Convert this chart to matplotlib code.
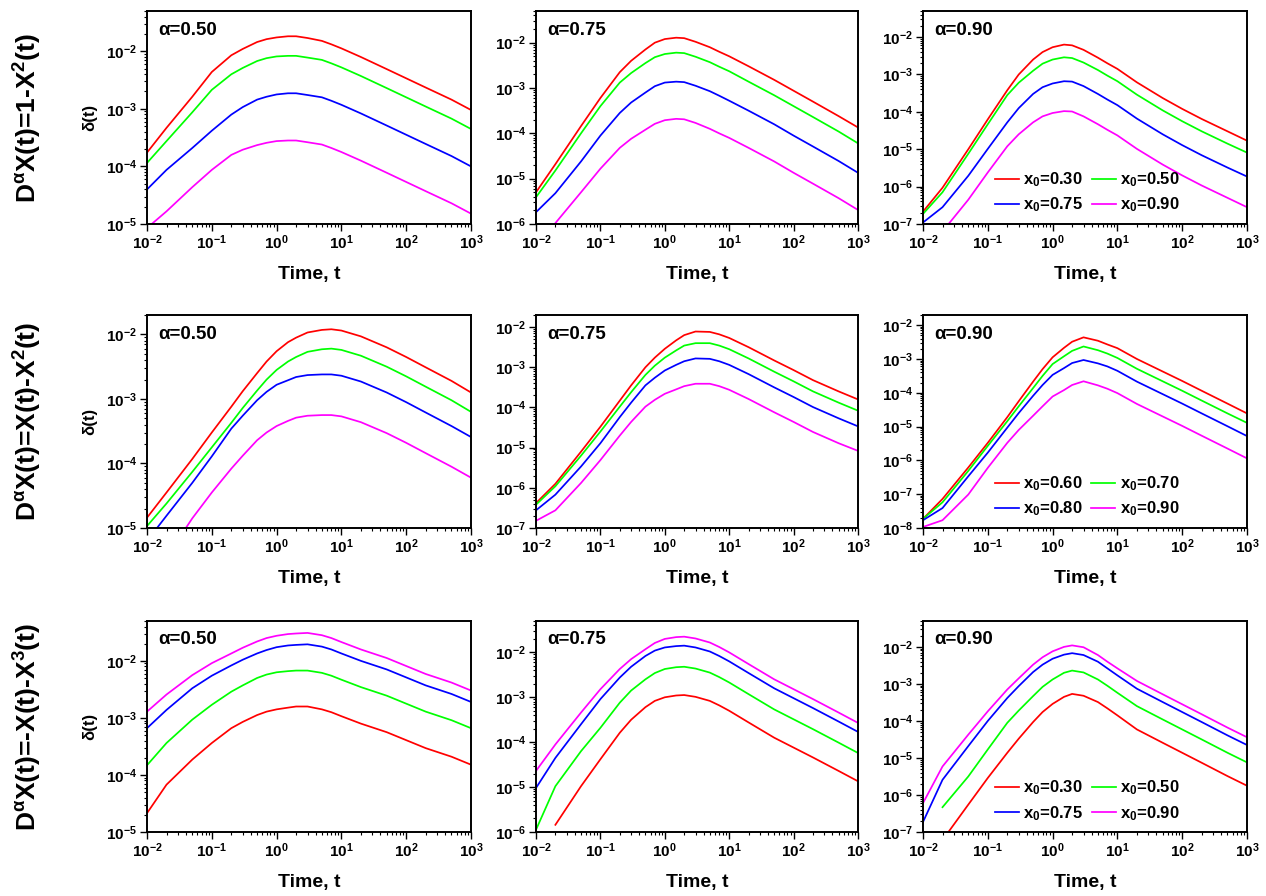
import numpy as np
import matplotlib
matplotlib.use('Agg')
from matplotlib import pyplot as plt
from matplotlib.ticker import LogLocator, LogFormatterMathtext, NullFormatter

plt.rcParams['font.family'] = ['Liberation Sans', 'DejaVu Sans']
plt.rcParams['font.weight'] = 'bold'
plt.rcParams['mathtext.default'] = 'regular'

# time points the curves were read at
t = [0.01, 0.02, 0.05, 0.1, 0.2, 0.3, 0.5, 0.7, 1, 1.5, 2, 3, 5, 7, 10, 20, 50, 100, 200, 500, 1000]
nan = float('nan')

# log10 of delta(t), curves in order red, green, blue, magenta
# row 1: D^a X = 1 - X^2
r1_a050 = [[-3.76, -3.33, -2.79, -2.36, -2.07, -1.96, -1.84, -1.79, -1.76, -1.74, -1.74, -1.77, -1.82, -1.88, -1.95, -2.10, -2.31, -2.47, -2.63, -2.84, -3.02],
           [-3.94, -3.56, -3.06, -2.67, -2.40, -2.29, -2.17, -2.12, -2.09, -2.08, -2.08, -2.11, -2.15, -2.21, -2.28, -2.43, -2.64, -2.80, -2.96, -3.17, -3.35],
           [-4.40, -4.06, -3.68, -3.38, -3.10, -2.97, -2.84, -2.79, -2.75, -2.73, -2.73, -2.76, -2.80, -2.86, -2.93, -3.08, -3.29, -3.45, -3.61, -3.82, -4.00],
           [-5.07, -4.78, -4.36, -4.06, -3.80, -3.71, -3.63, -3.59, -3.56, -3.55, -3.55, -3.58, -3.62, -3.68, -3.75, -3.90, -4.11, -4.27, -4.43, -4.64, -4.82]]
r1_a075 = [[-5.30, -4.68, -3.84, -3.22, -2.65, -2.40, -2.15, -2.00, -1.92, -1.89, -1.90, -1.98, -2.10, -2.20, -2.30, -2.52, -2.82, -3.06, -3.30, -3.62, -3.87],
           [-5.41, -4.82, -4.00, -3.40, -2.88, -2.67, -2.45, -2.32, -2.25, -2.22, -2.23, -2.31, -2.43, -2.53, -2.63, -2.86, -3.16, -3.40, -3.64, -3.96, -4.22],
           [-5.74, -5.32, -4.62, -4.05, -3.55, -3.32, -3.10, -2.96, -2.88, -2.86, -2.87, -2.95, -3.07, -3.17, -3.28, -3.50, -3.80, -4.05, -4.29, -4.61, -4.87],
           [-6.70, -5.98, -5.30, -4.78, -4.32, -4.12, -3.92, -3.79, -3.71, -3.68, -3.69, -3.77, -3.90, -4.00, -4.10, -4.32, -4.62, -4.87, -5.11, -5.43, -5.69]]
r1_a090 = [[-6.67, -6.03, -5.00, -4.20, -3.42, -3.00, -2.60, -2.40, -2.27, -2.20, -2.22, -2.34, -2.55, -2.70, -2.85, -3.21, -3.63, -3.92, -4.19, -4.52, -4.77],
           [-6.73, -6.15, -5.12, -4.33, -3.55, -3.22, -2.90, -2.71, -2.60, -2.54, -2.56, -2.68, -2.88, -3.03, -3.18, -3.54, -3.96, -4.25, -4.52, -4.85, -5.09],
           [-6.96, -6.55, -5.71, -4.99, -4.28, -3.90, -3.52, -3.34, -3.24, -3.18, -3.19, -3.31, -3.52, -3.67, -3.82, -4.18, -4.60, -4.89, -5.16, -5.49, -5.73],
           [-7.50, -7.20, -6.35, -5.62, -4.92, -4.60, -4.28, -4.12, -4.03, -3.98, -3.99, -4.12, -4.33, -4.48, -4.63, -4.99, -5.41, -5.70, -5.97, -6.30, -6.55]]
# row 2: D^a X = X - X^2
r2_a050 = [[-4.84, -4.45, -3.93, -3.52, -3.12, -2.88, -2.60, -2.42, -2.26, -2.12, -2.05, -1.97, -1.93, -1.92, -1.94, -2.03, -2.20, -2.35, -2.51, -2.72, -2.90],
           [-4.97, -4.62, -4.13, -3.75, -3.37, -3.14, -2.87, -2.70, -2.55, -2.42, -2.35, -2.27, -2.23, -2.22, -2.24, -2.33, -2.50, -2.65, -2.81, -3.02, -3.20],
           [-5.20, -4.81, -4.30, -3.89, -3.46, -3.26, -3.02, -2.89, -2.78, -2.71, -2.66, -2.63, -2.62, -2.62, -2.64, -2.73, -2.90, -3.05, -3.21, -3.42, -3.59],
           [-5.80, -5.45, -4.85, -4.45, -4.08, -3.88, -3.64, -3.52, -3.42, -3.34, -3.29, -3.26, -3.25, -3.25, -3.27, -3.36, -3.53, -3.68, -3.84, -4.05, -4.22]]
r2_a075 = [[-6.38, -5.90, -5.10, -4.48, -3.83, -3.45, -3.00, -2.76, -2.54, -2.33, -2.20, -2.11, -2.12, -2.18, -2.27, -2.50, -2.83, -3.07, -3.32, -3.60, -3.80],
           [-6.42, -5.96, -5.20, -4.60, -3.98, -3.62, -3.19, -2.96, -2.76, -2.58, -2.46, -2.40, -2.40, -2.46, -2.55, -2.78, -3.11, -3.35, -3.60, -3.88, -4.08],
           [-6.56, -6.17, -5.47, -4.89, -4.24, -3.88, -3.45, -3.26, -3.08, -2.94, -2.85, -2.78, -2.79, -2.85, -2.94, -3.17, -3.50, -3.74, -3.99, -4.27, -4.47],
           [-6.82, -6.56, -5.88, -5.31, -4.70, -4.36, -3.98, -3.81, -3.66, -3.55, -3.47, -3.41, -3.41, -3.47, -3.56, -3.79, -4.12, -4.36, -4.61, -4.89, -5.08]]
r2_a090 = [[-7.73, -7.14, -6.21, -5.48, -4.72, -4.25, -3.67, -3.30, -2.95, -2.67, -2.49, -2.36, -2.46, -2.57, -2.68, -3.00, -3.37, -3.65, -3.94, -4.32, -4.61],
           [-7.73, -7.24, -6.31, -5.57, -4.84, -4.40, -3.86, -3.50, -3.15, -2.92, -2.76, -2.63, -2.74, -2.84, -2.97, -3.29, -3.66, -3.94, -4.23, -4.61, -4.89],
           [-7.77, -7.41, -6.47, -5.77, -5.03, -4.60, -4.09, -3.77, -3.47, -3.27, -3.12, -3.03, -3.13, -3.22, -3.35, -3.67, -4.04, -4.32, -4.61, -4.99, -5.28],
           [-7.97, -7.77, -7.01, -6.22, -5.48, -5.10, -4.68, -4.40, -4.11, -3.92, -3.77, -3.66, -3.78, -3.88, -4.01, -4.33, -4.70, -4.98, -5.27, -5.65, -5.94]]
# row 3: D^a X = -X - X^3
r3_a050 = [[-4.67, -4.17, -3.73, -3.44, -3.18, -3.07, -2.95, -2.89, -2.85, -2.82, -2.80, -2.80, -2.85, -2.90, -2.97, -3.10, -3.25, -3.39, -3.53, -3.68, -3.82],
           [-3.83, -3.44, -3.03, -2.77, -2.54, -2.43, -2.30, -2.24, -2.20, -2.18, -2.17, -2.17, -2.21, -2.26, -2.33, -2.46, -2.61, -2.75, -2.89, -3.04, -3.18],
           [-3.18, -2.86, -2.48, -2.26, -2.08, -1.98, -1.87, -1.81, -1.76, -1.73, -1.72, -1.71, -1.75, -1.80, -1.87, -2.00, -2.15, -2.29, -2.43, -2.58, -2.72],
           [-2.89, -2.59, -2.25, -2.04, -1.87, -1.77, -1.66, -1.60, -1.56, -1.53, -1.52, -1.51, -1.55, -1.60, -1.67, -1.80, -1.95, -2.09, -2.23, -2.38, -2.52]]
r3_a075 = [[nan, -5.84, -4.98, -4.38, -3.79, -3.50, -3.22, -3.08, -3.00, -2.96, -2.95, -2.99, -3.08, -3.18, -3.30, -3.56, -3.90, -4.12, -4.34, -4.64, -4.87],
           [-5.95, -4.98, -4.20, -3.68, -3.12, -2.85, -2.60, -2.46, -2.37, -2.33, -2.32, -2.36, -2.45, -2.55, -2.67, -2.93, -3.27, -3.49, -3.71, -4.01, -4.24],
           [-5.02, -4.35, -3.60, -3.04, -2.56, -2.32, -2.08, -1.96, -1.89, -1.86, -1.85, -1.89, -1.98, -2.08, -2.20, -2.46, -2.80, -3.02, -3.24, -3.54, -3.77],
           [-4.64, -4.05, -3.34, -2.82, -2.37, -2.15, -1.93, -1.79, -1.70, -1.66, -1.65, -1.69, -1.78, -1.88, -2.00, -2.26, -2.60, -2.82, -3.04, -3.34, -3.57]]
r3_a090 = [[nan, -7.22, -6.26, -5.54, -4.86, -4.48, -4.03, -3.76, -3.54, -3.35, -3.27, -3.32, -3.49, -3.66, -3.85, -4.23, -4.59, -4.86, -5.13, -5.49, -5.75],
           [nan, -6.33, -5.50, -4.77, -4.05, -3.72, -3.33, -3.08, -2.88, -2.70, -2.64, -2.69, -2.88, -3.05, -3.24, -3.60, -3.96, -4.23, -4.50, -4.86, -5.12],
           [-6.73, -5.59, -4.68, -4.00, -3.38, -3.06, -2.68, -2.48, -2.32, -2.21, -2.17, -2.22, -2.40, -2.58, -2.77, -3.13, -3.49, -3.76, -4.03, -4.39, -4.65],
           [-6.22, -5.23, -4.37, -3.74, -3.15, -2.85, -2.48, -2.28, -2.12, -2.00, -1.96, -2.01, -2.22, -2.40, -2.58, -2.92, -3.28, -3.55, -3.82, -4.18, -4.44]]

row_titles = [r'D$^{\alpha}$X(t)=1-X$^{2}$(t)',
              r'D$^{\alpha}$X(t)=X(t)-X$^{2}$(t)',
              r'D$^{\alpha}$X(t)=-X(t)-X$^{3}$(t)']
alpha_labels = ['0.50', '0.75', '0.90']
x0_labels = [['0.30', '0.50', '0.75', '0.90'],
             ['0.60', '0.70', '0.80', '0.90'],
             ['0.30', '0.50', '0.75', '0.90']]
y_bottom = [[1e-5, 1e-6, 1e-7], [1e-5, 1e-7, 1e-8], [1e-5, 1e-6, 1e-7]]
y_top = [5e-2, 2e-2, 5e-2]

colors = ['#ff0000', '#00ff00', '#0000ff', '#ff00ff']
data = [[r1_a050, r1_a075, r1_a090],
        [r2_a050, r2_a075, r2_a090],
        [r3_a050, r3_a075, r3_a090]]

W, H = 1266, 896
cols_px = [(147, 471), (536, 858), (923, 1247)]
rows_px = [(11, 224), (315, 528), (621, 832)]

fig = plt.figure(figsize=(W / 100, H / 100), dpi=100)

for i in range(3):
    top, bot = rows_px[i]
    for j in range(3):
        left, right = cols_px[j]
        ax = fig.add_axes([left / W, 1 - bot / H, (right - left) / W, (bot - top) / H])
        lines = []
        for k in range(4):
            y = 10 ** np.array(data[i][j][k], dtype=float)
            ln, = ax.plot(t, y, color=colors[k], lw=1.25,
                          label=r'x$_{0}$=' + x0_labels[i][k])
            lines.append(ln)
        ax.set_xscale('log')
        ax.set_yscale('log')
        ax.set_xlim(1e-2, 1e3)
        ax.set_ylim(y_bottom[i][j], y_top[i])
        for a in (ax.xaxis, ax.yaxis):
            a.set_major_locator(LogLocator(base=10, numticks=20))
            a.set_minor_locator(LogLocator(base=10, subs=np.arange(2, 10), numticks=20))
            a.set_major_formatter(LogFormatterMathtext())
            a.set_minor_formatter(NullFormatter())
        ax.tick_params(which='major', direction='out', length=5, width=1,
                       labelsize=11, pad=2, top=False, right=False)
        ax.tick_params(which='minor', direction='out', length=2.5, width=0.8,
                       top=False, right=False)
        for lab in ax.get_xticklabels() + ax.get_yticklabels():
            lab.set_fontweight('bold')
        for s in ax.spines.values():
            s.set_linewidth(1.4)

        ax.text(0.034, 0.91, '\u03b1=' + alpha_labels[j], transform=ax.transAxes,
                fontsize=13.5, fontweight='bold', va='center', ha='left')
        ax.text(0.5, -50 / (bot - top), 'Time, t', transform=ax.transAxes,
                fontsize=14, fontweight='bold', ha='center', va='center')
        if j == 0:
            ax.text(-0.176, 0.5, '\u03b4(t)', transform=ax.transAxes, rotation=90,
                    fontsize=12, fontweight='bold', ha='center', va='center')
            fig.text(28 / W, 1 - (top + bot) / 2 / H, row_titles[i], rotation=90,
                     fontsize=19, fontweight='bold', ha='center', va='center')
        if j == 2:
            order = [lines[0], lines[2], lines[1], lines[3]]
            ax.legend(handles=order, ncol=2, loc='lower left',
                      bbox_to_anchor=(0.222, 0.045), frameon=False,
                      prop={'size': 12, 'weight': 'bold'}, handlelength=1.45,
                      handletextpad=0.25, columnspacing=0.5, labelspacing=0.4,
                      borderpad=0, borderaxespad=0)

fig.savefig('out.png', dpi=100)
